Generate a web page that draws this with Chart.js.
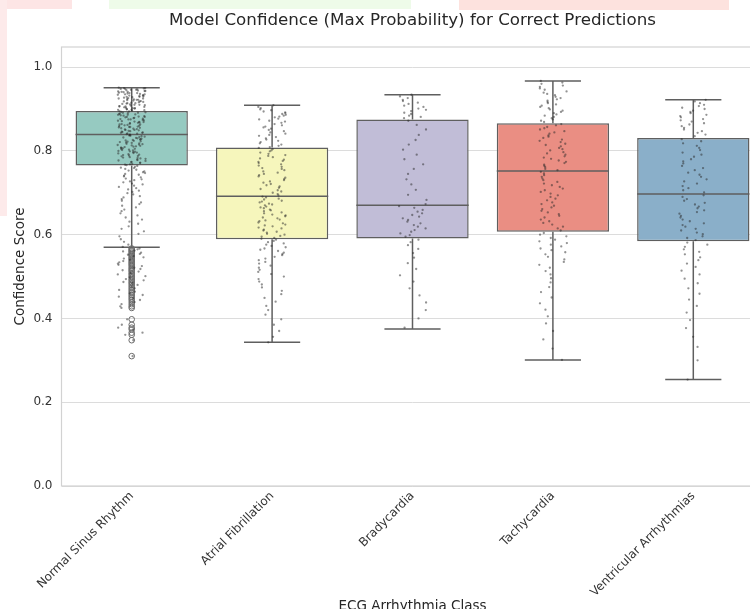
<!DOCTYPE html>
<html>
<head>
<meta charset="utf-8">
<script src="https://cdn.jsdelivr.net/npm/chart.js@4/dist/chart.umd.min.js"></script>
<style>
html,body{margin:0;padding:0;background:#fff;overflow:hidden;width:750px;height:609px;}
#wrap{position:relative;width:750px;height:609px;overflow:hidden;background:#fff;}
.bg{position:absolute;}
canvas{position:absolute;left:0;top:0;}
</style>
</head>
<body>
<div id="wrap">
  <div class="bg" style="left:0;top:0;width:72px;height:9px;background:#fde5e5"></div>
  <div class="bg" style="left:0;top:0;width:7px;height:216px;background:#fdeaea"></div>
  <div class="bg" style="left:109px;top:0;width:302px;height:9px;background:#eefbe9"></div>
  <div class="bg" style="left:459px;top:0;width:270px;height:10px;background:#fde2de"></div>
  <canvas id="c" width="772" height="615" style="width:772px;height:615px"></canvas>
</div>
<script>
// ---- data ----
const categories = ["Normal Sinus Rhythm", "Atrial Fibrillation", "Bradycardia", "Tachycardia", "Ventricular Arrhythmias"];
const whiskerLow  = [0.570, 0.343, 0.375, 0.301, 0.254];
const q1          = [0.765, 0.589, 0.591, 0.607, 0.584];
const median      = [0.839, 0.692, 0.670, 0.752, 0.697];
const q3          = [0.895, 0.808, 0.875, 0.866, 0.831];
const whiskerHigh = [0.951, 0.909, 0.934, 0.967, 0.922];
const yTicks = [0.0, 0.2, 0.4, 0.6, 0.8, 1.0];

// individual confidence scores (x1000), read from the strip points
const nsrScores = [951,950,950,949,948,948,947,946,946,945,944,943,943,942,941,941,940,939,938,938,937,936,935,935,934,933,932,932,931,930,929,929,928,927,926,925,925,924,923,922,922,921,920,919,918,918,917,916,915,914,914,913,912,911,910,910,909,908,907,906,906,905,904,903,902,902,901,900,899,898,898,897,896,895,
894,893,892,891,891,890,889,888,887,886,886,885,884,883,882,881,881,880,879,878,877,876,875,875,874,873,872,871,870,869,869,868,867,866,865,864,863,863,862,861,860,859,858,857,857,856,855,854,853,852,851,850,850,849,848,847,846,845,844,843,843,842,841,840,839,
838,837,836,835,834,833,832,831,830,829,828,827,826,825,824,823,822,821,820,819,818,817,816,815,814,813,812,811,810,809,808,807,806,805,804,803,802,801,800,799,798,797,796,795,794,792,791,790,789,788,787,785,784,783,782,781,779,778,777,776,774,773,772,771,769,768,767,766,
764,762,760,759,757,755,753,751,749,747,745,743,741,739,737,734,732,730,727,725,722,720,717,714,711,708,705,702,699,696,692,689,685,681,677,673,669,665,660,656,651,646,641,636,631,626,620,614,608,602,596,589,583,576,571,
567,565,562,560,557,554,552,549,546,543,540,537,534,531,528,525,521,518,515,512,508,505,501,498,494,491,487,484,480,476,472,468,464,460,456,452,448,444,439,434,429,425,398,385,378,374,366,361,348,310];
const afScores = [909,905,902,899,897,894,892,890,888,886,884,882,880,877,875,872,870,867,864,861,858,856,853,850,847,844,841,838,836,833,830,827,824,821,818,815,812,809,
807,804,801,799,796,793,790,788,785,782,779,776,774,771,768,765,762,759,757,754,751,748,745,742,739,736,733,730,727,724,721,718,715,712,709,706,703,700,697,694,
691,689,686,684,681,679,677,674,672,670,667,665,663,660,658,656,653,651,648,646,644,641,639,636,634,632,629,627,624,622,620,617,615,612,610,607,605,602,600,597,595,592,590,
588,585,582,579,576,573,570,567,564,561,557,554,551,547,543,539,535,531,526,521,516,511,506,500,494,488,481,474,466,458,449,440,430,420,409,398,385,370,356,343];
const bradyScores = [934,930,926,922,919,915,912,908,905,901,898,895,891,888,884,881,878,
872,862,851,838,826,815,803,791,780,768,757,745,732,720,707,695,683,673,
668,664,659,655,651,647,643,639,635,631,627,623,619,615,611,607,603,599,595,
588,582,575,566,556,545,532,518,503,488,472,455,438,420,400,378];
const tachyScores = [967,963,960,956,953,949,946,942,939,936,933,929,926,923,920,917,914,911,908,905,902,899,896,893,890,887,884,881,878,875,872,869,
864,861,857,854,851,847,844,841,837,834,831,827,824,821,817,814,811,807,804,801,797,794,791,787,784,781,777,774,771,767,764,761,757,754,
750,746,742,738,734,730,726,722,718,714,710,706,702,698,694,690,686,682,677,673,669,665,661,657,653,649,645,641,636,632,628,624,619,615,610,
604,600,596,592,588,584,580,576,572,567,563,558,553,547,541,535,528,521,513,505,496,486,475,463,450,436,421,405,388,370,350,328,301];
const ventScores = [922,918,914,910,907,903,900,896,893,890,886,883,880,876,873,870,866,863,859,855,851,847,843,839,835,
828,823,818,812,807,802,796,791,786,780,775,770,764,759,754,748,743,738,732,727,722,716,711,706,701,
694,690,685,681,676,672,667,663,658,654,650,645,641,636,632,627,623,619,614,610,605,601,596,592,587,
581,576,571,565,559,553,546,539,531,523,514,505,495,484,472,459,445,430,414,396,377,356,332,300,254];
const scoresByClass = [nsrScores, afScores, bradyScores, tachyScores, ventScores];

// ---- styling ----
const boxColors = ["#96cac1", "#f6f6bc", "#c1bdd7", "#ea8e83", "#8aafc9"];
const lineColor = "#5f5f5f";
const gridColor = "#dcdcdc";
const textColor = "#333333";
const FONT = "'DejaVu Sans', sans-serif";

// ---- build datasets from the arrays ----
const boxData = categories.map((c, i) => ({x: i, y: [q1[i], q3[i]]}));
const whiskerData = [];
const capHalf = 0.2, boxHalf = 0.4;
categories.forEach((c, i) => {
  whiskerData.push({x: i, y: q3[i]}, {x: i, y: whiskerHigh[i]}, {x: i, y: null});
  whiskerData.push({x: i, y: q1[i]}, {x: i, y: whiskerLow[i]}, {x: i, y: null});
  whiskerData.push({x: i - capHalf, y: whiskerHigh[i]}, {x: i + capHalf, y: whiskerHigh[i]}, {x: i, y: null});
  whiskerData.push({x: i - capHalf, y: whiskerLow[i]}, {x: i + capHalf, y: whiskerLow[i]}, {x: i, y: null});
});
const medianData = [];
categories.forEach((c, i) => {
  medianData.push({x: i - boxHalf, y: median[i]}, {x: i + boxHalf, y: median[i]}, {x: i, y: null});
});
const flierData = [];
const stripData = [];
// deterministic horizontal spread of the strip points (+-0.1 category), integer hash
function spread(n) {
  n = Math.imul(n ^ (n >>> 16), 0x45d9f3b);
  n = Math.imul(n ^ (n >>> 16), 0x45d9f3b);
  n = n ^ (n >>> 16);
  return (n >>> 0) / 4294967296;
}
scoresByClass.forEach((arr, i) => {
  arr.forEach((v, k) => {
    const s = v / 1000;
    stripData.push({x: i + (spread(k * 5 + i + 11) - 0.5) * 0.2, y: s});
    if (s < whiskerLow[i] - 1e-9 || s > whiskerHigh[i] + 1e-9) flierData.push({x: i, y: s});
  });
});

const titlePlugin = {
  id: 'axTitle',
  afterDraw(chart) {
    const ctx = chart.ctx, a = chart.chartArea;
    ctx.save();
    ctx.font = "16.7px " + FONT;
    ctx.fillStyle = "#262626";
    ctx.textAlign = "center";
    ctx.textBaseline = "middle";
    ctx.fillText("Model Confidence (Max Probability) for Correct Predictions", (a.left + a.right) / 2, 20.5);
    ctx.restore();
  }
};
const framePlugin = {
  id: 'frame',
  beforeDatasetsDraw(chart) {
    const ctx = chart.ctx, a = chart.chartArea;
    ctx.save();
    ctx.strokeStyle = "#d2d2d2";
    ctx.lineWidth = 1.2;
    ctx.strokeRect(a.left, a.top, a.right - a.left, a.bottom - a.top);
    ctx.restore();
  }
};

new Chart(document.getElementById('c'), {
  type: 'bar',
  data: {
    datasets: [
      {type: 'scatter', data: stripData, pointRadius: 1.15, pointBackgroundColor: 'rgba(40,40,40,0.5)', pointBorderWidth: 0, order: 1},
      {type: 'scatter', data: flierData, pointRadius: 2.8, pointBackgroundColor: 'rgba(0,0,0,0)', pointBorderColor: '#6a6a6a', pointBorderWidth: 1, order: 2},
      {type: 'scatter', data: medianData, showLine: true, spanGaps: false, borderColor: lineColor, borderWidth: 1.5, pointRadius: 0, order: 3},
      {type: 'scatter', data: whiskerData, showLine: true, spanGaps: false, borderColor: lineColor, borderWidth: 1.5, pointRadius: 0, order: 4},
      {type: 'bar', data: boxData, backgroundColor: boxColors, borderColor: lineColor, borderWidth: 1.5, borderSkipped: false, barPercentage: 0.8, categoryPercentage: 1.0, order: 5}
    ]
  },
  options: {
    responsive: false,
    animation: false,
    events: [],
    devicePixelRatio: 1,
    layout: {padding: {top: 47, left: 0, right: 8.5, bottom: 0}},
    plugins: {legend: {display: false}, tooltip: {enabled: false}, title: {display: false}},
    scales: {
      x: {
        type: 'linear', min: -0.5, max: 4.5, offset: false,
        afterBuildTicks: s => { s.ticks = categories.map((c, i) => ({value: i})); },
        afterFit: s => { s.height = 129; },
        grid: {display: false, drawTicks: false},
        border: {display: false},
        ticks: {
          autoSkip: false, maxRotation: 45, minRotation: 45, padding: 3,
          color: textColor, font: {family: FONT, size: 12},
          callback: v => categories[v]
        },
        title: {display: true, text: 'ECG Arrhythmia Class', color: '#262626', font: {family: FONT, size: 13.5}, padding: {top: 0, bottom: 0}}
      },
      y: {
        type: 'linear', min: 0, max: 1.048,
        afterBuildTicks: s => { s.ticks = yTicks.map(v => ({value: v})); },
        afterFit: s => { s.width = 61.5; },
        grid: {color: gridColor, lineWidth: 1, drawTicks: false},
        border: {display: false},
        ticks: {padding: 9, color: textColor, font: {family: FONT, size: 12}, callback: v => v.toFixed(1)},
        title: {display: true, text: 'Confidence Score', color: '#262626', font: {family: FONT, size: 13.5}, padding: {top: 12, bottom: 0}}
      }
    }
  },
  plugins: [titlePlugin, framePlugin]
});
</script>
</body>
</html>
